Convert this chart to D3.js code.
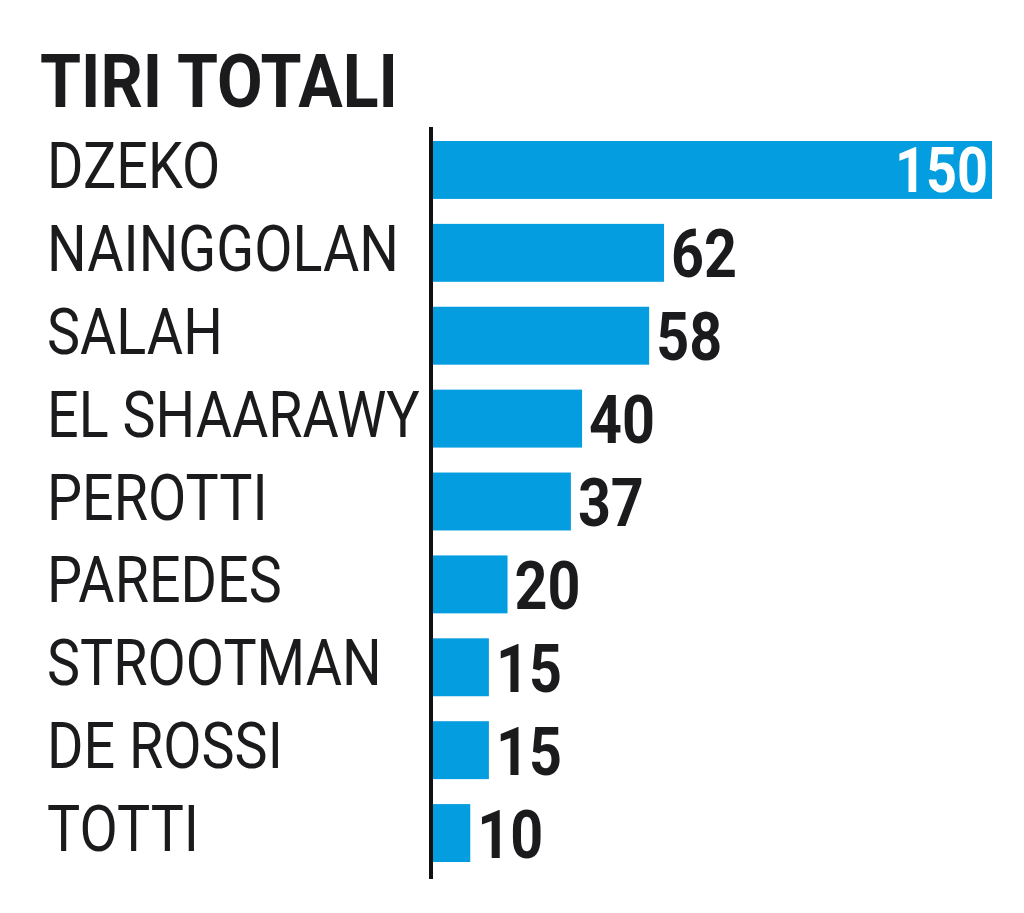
<!DOCTYPE html>
<html><head><meta charset="utf-8">
<script src="https://cdn.jsdelivr.net/npm/d3@7"></script>
<style>body{margin:0;background:#fff}svg{display:block}</style>
</head><body>
<svg id="chart" width="1024" height="913"></svg>
<script>
const title = "TIRI TOTALI";
const players = ["DZEKO","NAINGGOLAN","SALAH","EL SHAARAWY","PEROTTI","PAREDES","STROOTMAN","DE ROSSI","TOTTI"];
const shots = [150,62,58,40,37,20,15,15,10];

const svg = d3.select("#chart");
const x0 = 433;
const x = d3.scaleLinear().domain([0,150]).range([x0, 992]);
const y = d3.scaleBand().domain(players).range([141 - 12.5, 862 + 12.5]).paddingInner(25/83).paddingOuter(12.5/83);
const blue = "#049ddf", ink = "#1b1b1d";

function condenseFactor(str, font, weight, size, target){
  const t = svg.append("text").attr("font-family",font).attr("font-weight",weight).attr("font-size",size).text(str);
  const w = t.node().getComputedTextLength(); t.remove();
  return target / w;
}
const FONT = "Roboto, 'Liberation Sans', sans-serif";
const labelSize = 64, valueSize = 67, titleSize = 74;
const kLabel = condenseFactor("NAINGGOLAN", FONT, 400, labelSize, 352);
const kValue = condenseFactor("58", FONT, 700, valueSize, 66);
const kTitle = condenseFactor(title, FONT, 700, titleSize, 358);

// title
svg.append("text").attr("transform", `translate(40,107) scale(${kTitle},1)`)
  .attr("font-family",FONT).attr("font-weight",700).attr("font-size",titleSize).attr("fill",ink).text(title);

// bars
svg.selectAll("rect.bar").data(players).join("rect").attr("class","bar")
  .attr("x", x(0)).attr("y", d => y(d)).attr("height", y.bandwidth())
  .attr("width", (d,i) => x(shots[i]) - x(0)).attr("fill", blue);

// axis line
svg.append("line").attr("x1",431).attr("x2",431).attr("y1",127).attr("y2",879)
  .attr("stroke","#111").attr("stroke-width",4);

// category labels
svg.selectAll("text.lab").data(players).join("text").attr("class","lab")
  .attr("transform", d => `translate(47,${y(d)+y.bandwidth()/2+18}) scale(${kLabel},1)`)
  .attr("font-family",FONT).attr("font-weight",400).attr("font-size",labelSize).attr("fill",ink).text(d => d);

// value labels
svg.selectAll("text.val").data(players).join("text").attr("class","val")
  .each(function(d,i){
    const inside = i === 0;
    const cy = y(d)+y.bandwidth()/2 + (inside ? 22.5 : 24.5);
    const tx = inside ? x(shots[i]) - 4 : x(shots[i]) + 7;
    d3.select(this)
      .attr("transform", `translate(${tx},${cy}) scale(${kValue},1)`)
      .attr("text-anchor", inside ? "end" : "start")
      .attr("font-size", inside ? 63 : valueSize)
      .attr("fill", inside ? "#fff" : ink);
  })
  .attr("font-family",FONT).attr("font-weight",700).text((d,i) => shots[i]);
</script>
</body></html>
